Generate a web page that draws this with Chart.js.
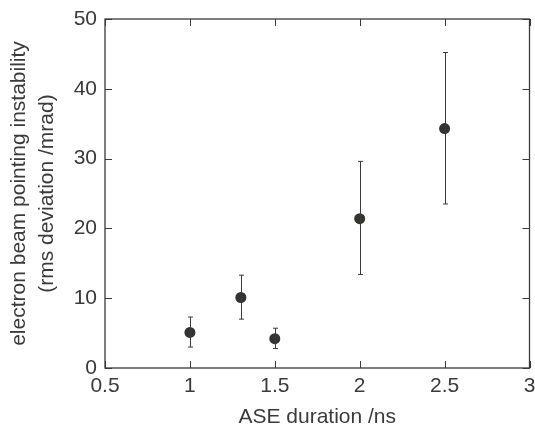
<!DOCTYPE html>
<html>
<head>
<meta charset="utf-8">
<script src="https://cdn.jsdelivr.net/npm/chart.js@4/dist/chart.umd.min.js"></script>
<style>
  html, body { margin: 0; padding: 0; background: #fff; }
  #wrap { width: 535px; height: 428px; }
</style>
</head>
<body>
<div id="wrap"><canvas id="c"></canvas></div>
<script>
  // ASE duration (ns) vs pointing instability (mrad)
  const aseDuration = [1, 1.3, 1.5, 2, 2.5];
  const instability = [5.1, 10.1, 4.2, 21.4, 34.3];
  const errLow = [3.0, 7.0, 2.8, 13.4, 23.5];
  const errHigh = [7.3, 13.3, 5.7, 29.6, 45.2];
  const xTicks = [0.5, 1, 1.5, 2, 2.5, 3];
  const yTicks = [0, 10, 20, 30, 40, 50];

  const ink = "#3a3a3a";
  const fontFamily = "'Liberation Sans', Arial, Helvetica, sans-serif";

  // error bars + box frame with inward ticks
  const framePlugin = {
    id: "frame",
    afterDatasetsDraw: function (chart) {
      const ctx = chart.ctx;
      const xs = chart.scales.x;
      const ys = chart.scales.y;
      const a = chart.chartArea;
      const tick = 7;

      ctx.save();
      ctx.strokeStyle = ink;
      ctx.lineWidth = 1;

      // error bars
      aseDuration.forEach((x, i) => {
        const px = Math.round(xs.getPixelForValue(x)) + 0.5;
        const lo = ys.getPixelForValue(errLow[i]);
        const hi = ys.getPixelForValue(errHigh[i]);
        ctx.beginPath();
        ctx.moveTo(px, lo);
        ctx.lineTo(px, hi);
        ctx.moveTo(px - 2.5, lo);
        ctx.lineTo(px + 2.5, lo);
        ctx.moveTo(px - 2.5, hi);
        ctx.lineTo(px + 2.5, hi);
        ctx.stroke();
      });

      // frame
      ctx.lineWidth = 1.3;
      ctx.strokeRect(a.left, a.top, a.right - a.left, a.bottom - a.top);

      // inward ticks on all four sides
      ctx.lineWidth = 1;
      ctx.beginPath();
      xTicks.forEach((v) => {
        const px = Math.round(xs.getPixelForValue(v)) + 0.5;
        ctx.moveTo(px, a.bottom);
        ctx.lineTo(px, a.bottom - tick);
        ctx.moveTo(px, a.top);
        ctx.lineTo(px, a.top + tick);
      });
      yTicks.forEach((v) => {
        const py = Math.round(ys.getPixelForValue(v)) + 0.5;
        ctx.moveTo(a.left, py);
        ctx.lineTo(a.left + tick, py);
        ctx.moveTo(a.right, py);
        ctx.lineTo(a.right - tick, py);
      });
      ctx.stroke();
      ctx.restore();
    },
  };

  const points = aseDuration.map((x, i) => ({ x: x, y: instability[i] }));

  new Chart(document.getElementById("c"), {
    type: "scatter",
    data: {
      datasets: [
        {
          data: points,
          pointRadius: 5.5,
          pointHoverRadius: 5.5,
          pointBackgroundColor: "#333330",
          pointBorderColor: "#333330",
          pointBorderWidth: 0,
        },
      ],
    },
    options: {
      responsive: true,
      maintainAspectRatio: false,
      animation: false,
      layout: { padding: { top: 19, right: 5, left: 0, bottom: 0 } },
      plugins: { legend: { display: false }, tooltip: { enabled: false } },
      scales: {
        x: {
          type: "linear",
          min: 0.5,
          max: 3,
          afterBuildTicks: (s) => {
            s.ticks = xTicks.map((v) => ({ value: v }));
          },
          afterFit: (s) => {
            s.height = 60;
            s.paddingLeft = 0;
            s.paddingRight = 0;
          },
          grid: { display: false, drawTicks: false },
          border: { display: false },
          ticks: {
            padding: 6,
            color: ink,
            font: { family: fontFamily, size: 21 },
            maxRotation: 0,
            callback: (v) => String(v),
          },
          title: {
            display: true,
            text: "ASE duration /ns",
            color: ink,
            font: { family: fontFamily, size: 21, lineHeight: 1 },
            padding: { top: 0, bottom: 0 },
          },
        },
        y: {
          type: "linear",
          min: 0,
          max: 50,
          afterBuildTicks: (s) => {
            s.ticks = yTicks.map((v) => ({ value: v }));
          },
          afterFit: (s) => {
            s.width = 105;
            s.paddingTop = 0;
            s.paddingBottom = 0;
          },
          grid: { display: false, drawTicks: false },
          border: { display: false },
          ticks: {
            padding: 8,
            color: ink,
            font: { family: fontFamily, size: 21 },
            callback: (v) => String(v),
          },
          title: {
            display: true,
            text: ["electron beam pointing instability", "(rms deviation /mrad)"],
            color: ink,
            font: { family: fontFamily, size: 21, lineHeight: 1.31 },
            padding: { top: 5.5, bottom: 0 },
          },
        },
      },
    },
    plugins: [framePlugin],
  });
</script>
</body>
</html>
